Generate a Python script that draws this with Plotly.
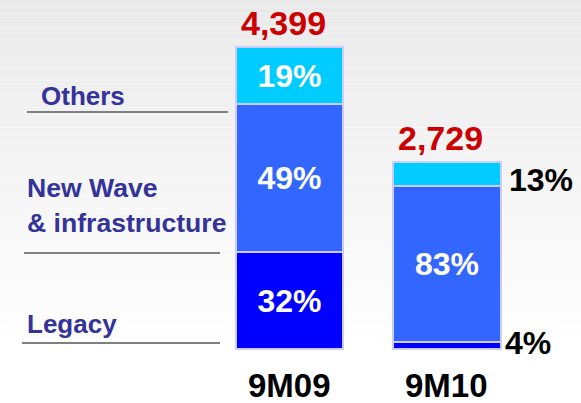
import plotly.graph_objects as go

categories = ["9M09", "9M10"]
totals = [4399, 2729]
segments = ["Legacy", "New Wave & infrastructure", "Others"]
pct_legacy = [32, 4]
pct_newwave = [49, 83]
pct_others = [19, 13]
total_labels = ["4,399", "2,729"]
left_labels = ["Others", "New Wave<br>& infrastructure", "Legacy"]

colors = {"Legacy": "#0000FF", "New Wave & infrastructure": "#3366FF", "Others": "#00CCFF"}
pcts = {"Legacy": pct_legacy, "New Wave & infrastructure": pct_newwave, "Others": pct_others}

W, H = 581, 403
FONT = "Liberation Sans, Arial, sans-serif"


def f(color, size):
    return dict(color=color, size=size, family=FONT, weight="bold")


fig = go.Figure()
xs = [0, 1]
for seg in segments:
    vals = [t * p / 100 for t, p in zip(totals, pcts[seg])]
    texts = [f"{pcts[seg][0]}%", ""]
    fig.add_trace(go.Bar(
        x=xs, y=vals, name=seg, width=0.68,
        marker=dict(color=colors[seg], line=dict(color="#CCCCFF", width=2)),
        text=texts, textposition="inside", insidetextanchor="middle",
        textfont=f("white", 32),
        showlegend=False, hoverinfo="skip",
    ))

base10 = totals[1] * pct_legacy[1] / 100
nw10 = totals[1] * pct_newwave[1] / 100
oth10 = totals[1] * pct_others[1] / 100
fig.add_annotation(x=1, y=base10 + nw10 / 2, xref="x", yref="y", text=f"{pct_newwave[1]}%",
                   showarrow=False, yanchor="middle", font=f("white", 32))
fig.add_annotation(x=1.36, y=base10 + nw10 + oth10 / 2, xref="x", yref="y", text=f"{pct_others[1]}%",
                   showarrow=False, xanchor="left", yanchor="middle", yshift=-6, xshift=3,
                   font=f("black", 32))
fig.add_annotation(x=1.36, y=base10 / 2, xref="x", yref="y", text=f"{pct_legacy[1]}%",
                   showarrow=False, xanchor="left", yanchor="middle", yshift=2, xshift=-1,
                   font=f("black", 32))

for i, (t, lab) in enumerate(zip(totals, total_labels)):
    fig.add_annotation(x=xs[i], y=t, xref="x", yref="y", text=lab, showarrow=False,
                       yanchor="bottom", yshift=3, xshift=-6,
                       font=f("#CC0000", 34))

for i, c in enumerate(categories):
    fig.add_annotation(x=xs[i], y=1 - 385 / H, xref="x", yref="paper", text=c, showarrow=False,
                       yanchor="middle", xshift=0, font=f("black", 33))


def px(x):
    return x / W


def py(y):
    return 1 - y / H


fig.add_annotation(x=px(39), y=py(96), xref="paper", yref="paper", text=left_labels[0],
                   showarrow=False, xanchor="left", yanchor="middle", align="left",
                   font=f("#333399", 26))
fig.add_annotation(x=px(25), y=py(205), xref="paper", yref="paper", text=left_labels[1],
                   showarrow=False, xanchor="left", yanchor="middle", align="left",
                   font=f("#333399", 26.6))
fig.add_annotation(x=px(25), y=py(324), xref="paper", yref="paper", text=left_labels[2],
                   showarrow=False, xanchor="left", yanchor="middle", align="left",
                   font=f("#333399", 26))

shapes = []
N = 60
for k in range(N):
    t = k / (N - 1)
    g = int(round(0xEA + (0xFF - 0xEA) * min(1, t * 1.15)))
    shapes.append(dict(type="rect", xref="paper", yref="paper", layer="below",
                       x0=0, x1=1, y0=1 - (k + 1) / N, y1=1 - k / N,
                       fillcolor=f"rgb({g},{g},{g})", line=dict(width=0)))
for (x0, x1, y) in [(27, 228, 112), (24, 220, 253), (22, 220, 343)]:
    shapes.append(dict(type="line", xref="paper", yref="paper", x0=px(x0), x1=px(x1),
                       y0=py(y), y1=py(y), line=dict(color="#808080", width=2)))

fig.update_layout(
    width=W, height=H, barmode="stack",
    margin=dict(l=0, r=0, t=0, b=0),
    paper_bgcolor="white", plot_bgcolor="rgba(0,0,0,0)",
    shapes=shapes, bargap=0,
    xaxis=dict(range=[-1.838, 1.851], visible=False, fixedrange=True),
    yaxis=dict(range=[-786.6, 5083.6], visible=False, fixedrange=True),
    uniformtext=dict(mode=False),
)
fig.write_html("out.html", post_script="document.body.style.margin='0';",
               config={"displayModeBar": False})
